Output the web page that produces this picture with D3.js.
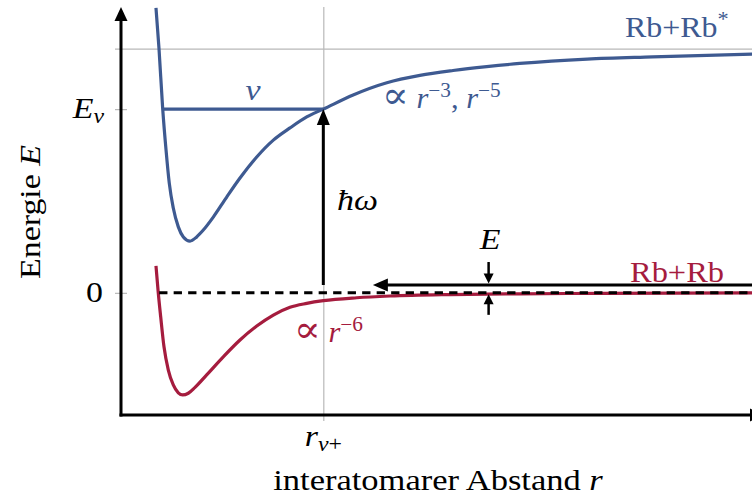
<!DOCTYPE html>
<html>
<head>
<meta charset="utf-8">
<script src="https://cdn.jsdelivr.net/npm/d3@7"></script>
<style>
  body { margin: 0; background: #fff; }
  text { font-family: "Liberation Serif", "DejaVu Serif", serif; }
</style>
</head>
<body>
<script>
// potential curves (r in arb. units, E relative to the Rb+Rb* asymptote)
const excitedR = [0.550, 0.597, 0.656, 0.708, 0.759, 0.822, 0.901, 0.980, 1.085, 1.190, 1.294, 1.451, 1.662, 1.871, 2.134, 2.395, 2.657, 2.920, 3.181, 3.65, 4.18, 4.70, 5.22, 5.75, 6.27, 7.33, 8.36, 10.0];
const excitedE = [1.166, 1.002, 0.752, 0.585, 0.449, 0.347, 0.270, 0.229, 0.212, 0.229, 0.257, 0.310, 0.392, 0.470, 0.556, 0.625, 0.675, 0.720, 0.752, 0.810, 0.860, 0.890, 0.910, 0.926, 0.939, 0.957, 0.966, 0.978];
const groundR = [0.550, 0.586, 0.624, 0.676, 0.744, 0.822, 0.901, 0.970, 1.058, 1.164, 1.347, 1.608, 1.871, 2.134, 2.395, 2.657, 2.920, 3.181, 3.706, 4.230, 5.173, 6.274, 7.531, 10.0];
const groundE = [0.110, 0.000, -0.098, -0.221, -0.316, -0.377, -0.409, -0.418, -0.411, -0.387, -0.336, -0.262, -0.193, -0.136, -0.091, -0.059, -0.043, -0.032, -0.020, -0.013, -0.007, -0.004, -0.002, 0];

// levels and markers
const eAsym = 1.0;        // Rb+Rb* asymptote
const eNu = 0.752;        // bound level nu
const rNuInner = 0.656;   // inner turning point of nu
const rNuPlus = 3.181;    // outer turning point r_nu+
const eScatter = 0.032;   // collision energy E
const rScatterTip = 3.96; // where the incoming arrow ends
const rDashStart = 0.60;

const yTickValues = [0, eNu, eAsym];
const xTickValues = [rNuPlus];

const blue = '#3e5a91';
const red = '#a51c3e';
const grid = '#b8b8b8';

const W = 752, H = 496;
const svg = d3.select('body').append('svg').attr('width', W).attr('height', H);

const x = d3.scaleLinear().domain([0, 10]).range([121, 757]);
const y = d3.scaleLinear().domain([-0.5, 1.17]).range([415, 7]);

// axes ticks (grey), labels are added by hand below
const yAxis = svg.append('g')
    .attr('transform', 'translate(' + x(0) + ',0)')
    .call(d3.axisLeft(y).tickValues(yTickValues).tickSize(6).tickFormat(''));
yAxis.select('.domain').remove();
yAxis.selectAll('.tick line')
    .attr('stroke', grid).attr('stroke-width', 1.2)
    .attr('x1', 6)
    .attr('x2', -6);
yAxis.selectAll('.tick').filter(d => d === eAsym).select('line')
    .attr('x1', W);

const xAxis = svg.append('g')
    .attr('transform', 'translate(0,' + y(-0.5) + ')')
    .call(d3.axisBottom(x).tickValues(xTickValues).tickSize(6).tickFormat(''));
xAxis.select('.domain').remove();
xAxis.selectAll('.tick line')
    .attr('stroke', grid).attr('stroke-width', 1.2)
    .attr('y1', 6)
    .attr('y2', y(1.17) - y(-0.5));

const line = d3.line()
    .x(d => x(d[0]))
    .y(d => y(d[1]))
    .curve(d3.curveMonotoneX);

// ground state curve
svg.append('path')
    .datum(d3.zip(groundR, groundE))
    .attr('d', line)
    .attr('fill', 'none').attr('stroke', red).attr('stroke-width', 3.2);

// excited curve
svg.append('path')
    .datum(d3.zip(excitedR, excitedE))
    .attr('d', line)
    .attr('fill', 'none').attr('stroke', blue).attr('stroke-width', 3.2);

// bound level nu
svg.append('line')
    .attr('x1', x(rNuInner)).attr('x2', x(rNuPlus))
    .attr('y1', y(eNu)).attr('y2', y(eNu))
    .attr('stroke', blue).attr('stroke-width', 3.2);

// dashed zero line
svg.append('line')
    .attr('x1', x(rDashStart)).attr('x2', W + 10)
    .attr('y1', y(0)).attr('y2', y(0))
    .attr('stroke', '#000').attr('stroke-width', 3)
    .attr('stroke-dasharray', '8.3,6.2');

function arrow(x1, y1, x2, y2, len, half, width) {
    const L = Math.hypot(x2 - x1, y2 - y1);
    const ux = (x2 - x1) / L, uy = (y2 - y1) / L;
    const bx = x2 - ux * len, by = y2 - uy * len;
    svg.append('line')
        .attr('x1', x1).attr('y1', y1)
        .attr('x2', x2 - ux * len * 0.6).attr('y2', y2 - uy * len * 0.6)
        .attr('stroke', '#000').attr('stroke-width', width);
    svg.append('path')
        .attr('d', 'M' + x2 + ',' + y2 +
            'L' + (bx - uy * half) + ',' + (by + ux * half) +
            'L' + (bx + uy * half) + ',' + (by - ux * half) + 'Z')
        .attr('fill', '#000');
}

// photon arrow and incoming collision arrow
arrow(x(rNuPlus), y(eScatter), x(rNuPlus), y(eNu), 16, 6.5, 3);
arrow(W + 10, y(eScatter), x(rScatterTip), y(eScatter), 15, 6.5, 3);
// small E markers
arrow(x(5.78), y(eScatter) - 23, x(5.78), y(eScatter) - 1.5, 10, 5, 2.5);
arrow(x(5.78), y(0) + 22, x(5.78), y(0) + 1.5, 10, 5, 2.5);

// axes
arrow(x(0), y(-0.5) + 1.5, x(0), y(1.17), 14, 6.5, 3);
arrow(x(0) - 1.5, y(-0.5), 764, y(-0.5), 14, 6.5, 3);

// text
function label(px, py, parts, opt) {
    opt = opt || {};
    const size = opt.size || 29;
    const sx = opt.sx || 1.17;
    const g = svg.append('g')
        .attr('transform', 'translate(' + px + ',' + py + ') rotate(' + (opt.rotate || 0) + ') scale(' + sx + ',1)');
    const t = g.append('text')
        .attr('text-anchor', opt.anchor || 'start')
        .attr('fill', opt.color || '#000')
        .attr('font-size', size);
    let shift = 0;
    parts.forEach(p => {
        const s = p[1] || '';
        const ts = t.append('tspan').text(p[0]);
        if (s.includes('i')) ts.attr('font-style', 'italic');
        if (s.includes('big')) ts.attr('font-size', size * 1.3).attr('font-family', 'DejaVu Serif');
        let target = 0;
        if (s.includes('sup')) { target = -11; ts.attr('font-size', size * 0.7); }
        if (s.includes('sub')) { target = 5; ts.attr('font-size', size * 0.7); }
        if (target !== shift) { ts.attr('dy', target - shift); shift = target; }
    });
}

label(40, 212, [['Energie '], ['E', 'i']], { anchor: 'middle', rotate: -90 });
label(438, 490, [['interatomarer Abstand '], ['r', 'i']], { anchor: 'middle', sx: 1.19 });
label(104, 118, [['E', 'i'], ['ν', 'isub']], { anchor: 'end' });
label(103, 302, [['0']], { anchor: 'end' });
label(x(rNuPlus), 446, [['r', 'i'], ['ν', 'isub'], ['+', 'sub']], { anchor: 'middle' });

label(625, 37, [['Rb+Rb'], ['*', 'sup']], { color: blue, sx: 1.1 });
label(630, 282, [['Rb+Rb']], { color: red, sx: 1.12 });
label(382, 108, [['∝', 'big'], [' '], ['r', 'i'], ['−3', 'sup'], [', '], ['r', 'i'], ['−5', 'sup']], { color: blue, sx: 1.05 });
label(294, 342, [['∝', 'big'], [' '], ['r', 'i'], ['−6', 'sup']], { color: red, sx: 1.05 });
label(253, 100, [['ν', 'i']], { color: blue, anchor: 'middle' });
label(337, 210, [['ħω', 'i']]);
label(490, 249, [['E', 'i']], { anchor: 'middle' });
</script>
</body>
</html>
